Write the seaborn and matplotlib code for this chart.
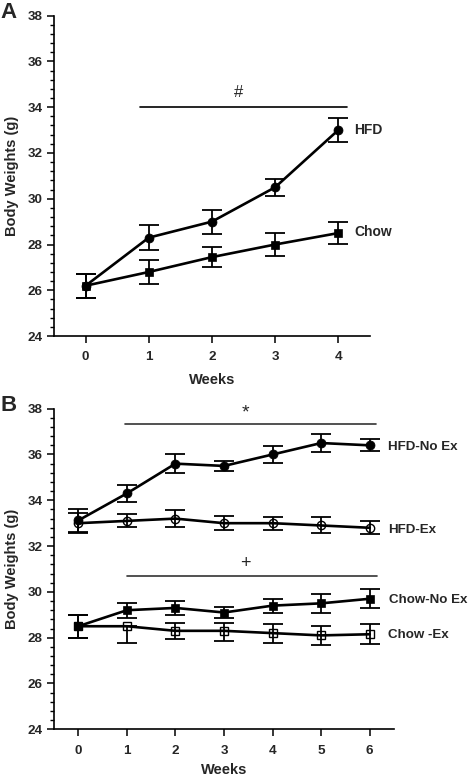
import matplotlib
matplotlib.use("Agg")
import matplotlib.pyplot as plt
import seaborn as sns
import numpy as np
import pandas as pd
from matplotlib.ticker import MultipleLocator

sns.set_theme(style="ticks")
plt.rcParams['font.family'] = ['Liberation Sans', 'DejaVu Sans']
plt.rcParams['font.weight'] = 'bold'

# ---------------- Panel A data ----------------
weeks_a = [0, 1, 2, 3, 4]
hfd_a = [26.2, 28.3, 29.0, 30.5, 33.0]
hfd_a_err = [0.52, 0.55, 0.52, 0.37, 0.51]
chow_a = [26.2, 26.8, 27.45, 28.0, 28.5]
chow_a_err = [0.52, 0.53, 0.42, 0.52, 0.47]

# ---------------- Panel B data ----------------
weeks_b = [0, 1, 2, 3, 4, 5, 6]
hfd_noex = [33.12, 34.3, 35.6, 35.5, 36.0, 36.5, 36.4]
hfd_noex_err = [0.5, 0.36, 0.42, 0.23, 0.38, 0.41, 0.26]
hfd_ex = [33.0, 33.1, 33.2, 33.0, 33.0, 32.9, 32.8]
hfd_ex_err = [0.45, 0.28, 0.38, 0.3, 0.28, 0.35, 0.29]
chow_noex = [28.5, 29.2, 29.3, 29.1, 29.4, 29.5, 29.7]
chow_noex_err = [0.5, 0.33, 0.3, 0.25, 0.3, 0.4, 0.42]
chow_ex = [28.5, 28.5, 28.3, 28.3, 28.2, 28.1, 28.15]
chow_ex_err_low = [0.5, 0.75, 0.35, 0.45, 0.43, 0.42, 0.44]
chow_ex_err_high = [0.5, 0.0, 0.35, 0.35, 0.4, 0.4, 0.43]

yticks = [24, 26, 28, 30, 32, 34, 36, 38]

fig = plt.figure(figsize=(4.68, 7.78), dpi=100)
axA = fig.add_axes([0.1154, 0.568, 0.675, 0.412])
axB = fig.add_axes([0.1154, 0.0626, 0.7265, 0.4121])


def series(ax, x, y, err, marker, filled, ms):
    ax.errorbar(x, y, yerr=err, fmt='none', ecolor='black', elinewidth=1.3,
                capsize=7, capthick=1.3, zorder=2)
    df = pd.DataFrame({'Weeks': x, 'Weight': y})
    sns.lineplot(data=df, x='Weeks', y='Weight', ax=ax, color='black',
                 linewidth=1.9, marker=marker, markersize=ms,
                 markerfacecolor='black' if filled else 'none',
                 markeredgecolor='black', markeredgewidth=1.0 if not filled else 0.5,
                 zorder=3)


def style(ax, xmax, xt, xpad):
    ax.set_ylim(24, 38)
    ax.set_xlim(-0.5, xmax)
    ax.set_yticks(yticks)
    ax.yaxis.set_minor_locator(MultipleLocator(0.4))
    ax.set_xticks(xt)
    sns.despine(ax=ax)
    for s in ['left', 'bottom']:
        ax.spines[s].set_linewidth(1.2)
        ax.spines[s].set_color('black')
    ax.tick_params(axis='both', which='major', length=5, width=1.1, color='black',
                   labelsize=9.7, pad=3)
    ax.tick_params(axis='y', which='minor', length=3, width=1.0, color='black', left=True)
    ax.tick_params(axis='x', which='major', pad=6)
    for lab in ax.get_xticklabels() + ax.get_yticklabels():
        lab.set_fontweight('bold')
    ax.set_ylabel('Body Weights (g)', fontsize=10.5, fontweight='bold', labelpad=6)
    ax.set_xlabel('Weeks', fontsize=10.5, fontweight='bold', labelpad=xpad)


# Panel A
series(axA, weeks_a, chow_a, chow_a_err, 's', True, 6.2)
series(axA, weeks_a, hfd_a, hfd_a_err, 'o', True, 6.5)
style(axA, 4.5, weeks_a, 7)
axA.plot([0.86, 4.13], [34.0, 34.0], color='black', lw=1.2)
axA.text(2.42, 34.3, '#', ha='center', va='bottom', fontsize=12, fontweight='normal')
axA.text(4.25, 33.0, 'HFD', ha='left', va='center', fontsize=10, fontweight='bold')
axA.text(4.25, 28.55, 'Chow', ha='left', va='center', fontsize=10, fontweight='bold')

# Panel B
series(axB, weeks_b, hfd_ex, hfd_ex_err, 'o', False, 6)
series(axB, weeks_b, hfd_noex, hfd_noex_err, 'o', True, 6.5)
series(axB, weeks_b, chow_ex, [chow_ex_err_low, chow_ex_err_high], 's', False, 5.5)
series(axB, weeks_b, chow_noex, chow_noex_err, 's', True, 6.2)
style(axB, 6.5, weeks_b, 4.5)
axB.plot([0.97, 6.12], [37.32, 37.32], color='#333333', lw=1.2)
axB.text(3.44, 37.45, '*', ha='center', va='bottom', fontsize=14, fontweight='normal')
axB.plot([1.0, 6.15], [30.71, 30.71], color='#333333', lw=1.2)
axB.text(3.44, 30.85, '+', ha='center', va='bottom', fontsize=13, fontweight='normal')
axB.text(6.37, 36.34, 'HFD-No Ex', ha='left', va='center', fontsize=9.6, fontweight='bold')
axB.text(6.37, 32.7, 'HFD-Ex', ha='left', va='center', fontsize=9.6, fontweight='bold')
axB.text(6.39, 29.64, 'Chow-No Ex', ha='left', va='center', fontsize=9.6, fontweight='bold')
axB.text(6.37, 28.12, 'Chow -Ex', ha='left', va='center', fontsize=9.6, fontweight='bold')

fig.text(0.002, 0.997, 'A', ha='left', va='top', fontsize=16, fontweight='bold')
fig.text(0.002, 0.492, 'B', ha='left', va='top', fontsize=16, fontweight='bold')

fig.savefig('out.png', dpi=100)
